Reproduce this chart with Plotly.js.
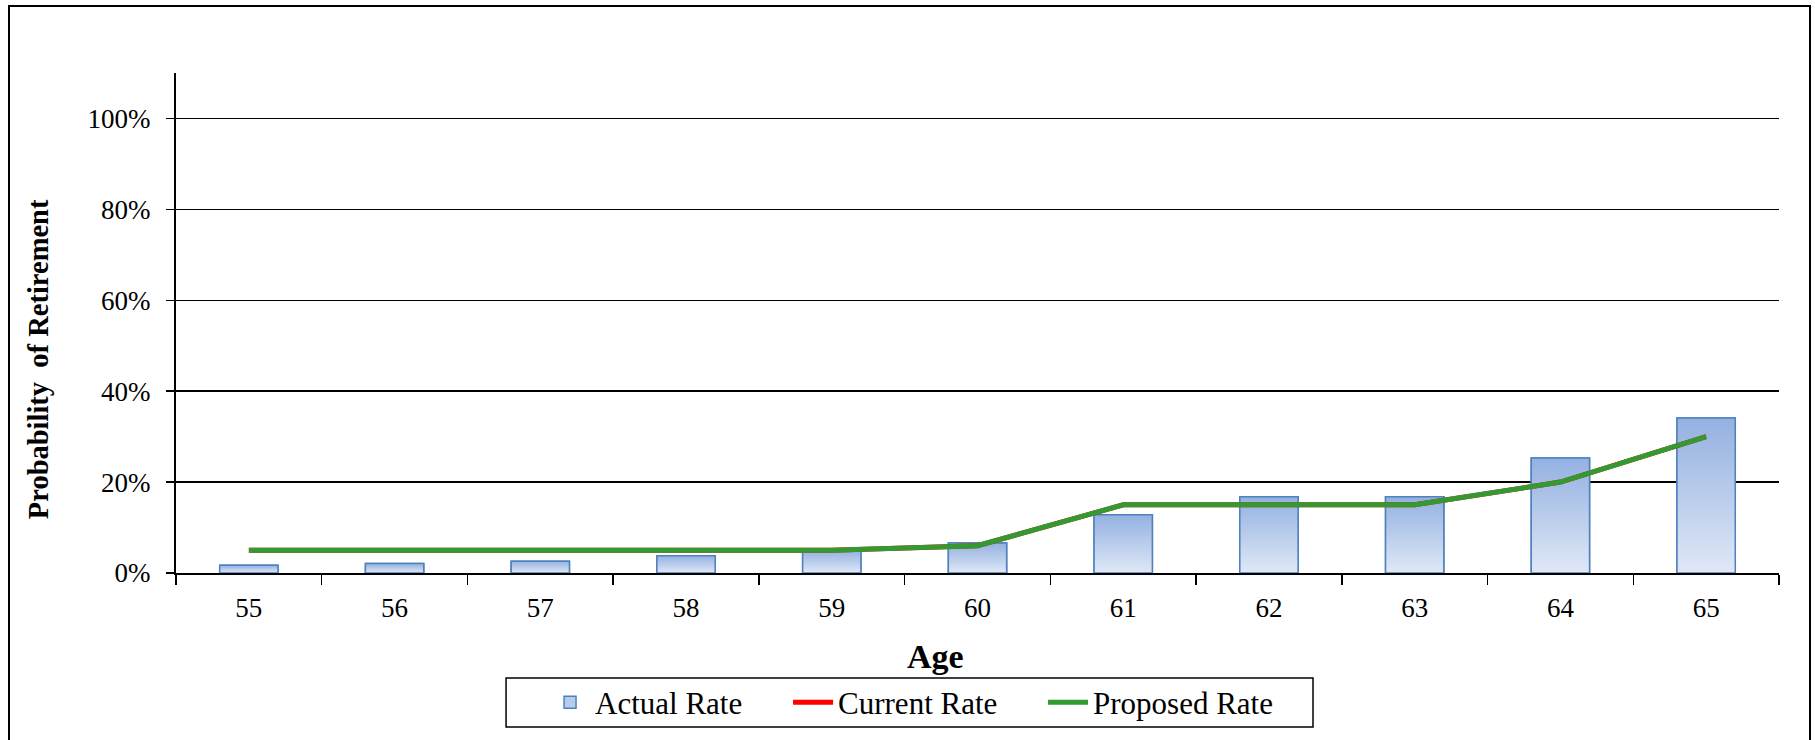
<!DOCTYPE html>
<html>
<head>
<meta charset="utf-8">
<script src="https://cdn.plot.ly/plotly-3.0.1.min.js"></script>
<style>
html,body{margin:0;padding:0;overflow:hidden;background:#fff;}
#wrap{position:relative;width:1815px;height:740px;}
#chart{position:absolute;left:0;top:0;width:1815px;height:740px;}
#frame{position:absolute;left:8px;top:5px;width:1799px;height:745px;border:2px solid #000;pointer-events:none;}
</style>
</head>
<body>
<div id="wrap"><div id="chart"></div><div id="frame"></div></div>
<script>
const ages = ['55','56','57','58','59','60','61','62','63','64','65'];
const actualRate = [0.017, 0.021, 0.026, 0.038, 0.050, 0.066, 0.128, 0.168, 0.168, 0.253, 0.341];
const currentRate = [0.05, 0.05, 0.05, 0.05, 0.05, 0.06, 0.15, 0.15, 0.15, 0.20, 0.30];
const proposedRate = [0.05, 0.05, 0.05, 0.05, 0.05, 0.06, 0.15, 0.15, 0.15, 0.20, 0.30];
const yTickVals = [0, 0.2, 0.4, 0.6, 0.8, 1.0];
const yTickText = ['0%', '20%', '40%', '60%', '80%', '100%'];

const serif = 'Liberation Serif, Times New Roman, serif';
const BAR_W = 0.4;
const idx = ages.map((a, i) => i);
const bounds = [-0.5].concat(idx.map(i => i + 0.5));

const traces = [
  {
    type: 'bar', name: 'Actual Rate', x: idx, y: actualRate, width: BAR_W,
    marker: {color: '#b7cbeb', line: {color: '#4f81bd', width: 1.5}},
    hoverinfo: 'skip', legendwidth: 188
  }
];
// gradient overlay for each bar (same geometry as the bar, derived from data)
actualRate.forEach((v, i) => {
  traces.push({
    type: 'scatter', mode: 'lines', showlegend: false, hoverinfo: 'skip',
    x: [i - BAR_W / 2, i + BAR_W / 2, i + BAR_W / 2, i - BAR_W / 2, i - BAR_W / 2],
    y: [0, 0, v, v, 0],
    fill: 'toself',
    fillgradient: {type: 'vertical', start: 0, stop: v,
      colorscale: [[0, '#e0e8f6'], [1, '#93b1e1']]},
    line: {color: '#4f81bd', width: 1.5}
  });
});
traces.push(
  {
    type: 'scatter', mode: 'lines', name: 'Current Rate', x: idx, y: currentRate,
    line: {color: '#ff0000', width: 5}, legendwidth: 200
  },
  {
    type: 'scatter', mode: 'lines', name: 'Proposed Rate', x: idx, y: proposedRate,
    line: {color: '#339933', width: 5}
  }
);

const layout = {
  width: 1815, height: 740,
  margin: {l: 176, r: 36, t: 73, b: 167, autoexpand: false},
  paper_bgcolor: '#fff', plot_bgcolor: '#fff',
  font: {family: serif, size: 27, color: '#000'},
  showlegend: true,
  legend: {
    orientation: 'h', xref: 'container', yref: 'container',
    x: 0.3003, xanchor: 'left', y: 0.0507, yanchor: 'middle',
    borderwidth: 0, bgcolor: 'rgba(0,0,0,0)',
    font: {family: serif, size: 31, color: '#000'},
    traceorder: 'normal', itemwidth: 40
  },
  xaxis: {
    range: [-0.5, 10.5], tickmode: 'array', tickvals: idx, ticktext: ages,
    ticks: '', showgrid: false, showline: true,
    linecolor: '#000', linewidth: 2, zeroline: false, ticklabelstandoff: 10,
    tickfont: {family: serif, size: 27, color: '#000'},
    minor: {tickmode: 'array', tickvals: bounds, ticks: 'outside', ticklen: 10,
      tickwidth: 1.5, tickcolor: '#000', showgrid: false}
  },
  yaxis: {
    range: [0, 1.1], tickvals: yTickVals, ticktext: yTickText,
    ticks: 'outside', ticklen: 8, tickwidth: 1.5, tickcolor: '#000',
    showgrid: true, gridcolor: '#000', gridwidth: 1.5,
    showline: true, linecolor: '#000', linewidth: 2, zeroline: false,
    tickfont: {family: serif, size: 27, color: '#000'}, ticklabelstandoff: 10
  },
  shapes: [
    {
      type: 'rect', xref: 'paper', yref: 'paper',
      x0: 0.2059, x1: 0.7093, y0: -0.308, y1: -0.21,
      line: {color: '#000', width: 1.5}, fillcolor: 'rgba(0,0,0,0)', layer: 'above'
    }
  ],
  annotations: [
    {
      text: '<b>Age</b>', xref: 'paper', yref: 'paper', x: 0.4735, y: -0.166,
      xanchor: 'center', yanchor: 'middle', showarrow: false,
      font: {family: serif, size: 34, color: '#000'}
    },
    {
      text: '<b>Probability\u00a0 of Retirement</b>', xref: 'paper', yref: 'paper',
      x: -0.086, y: 0.428, xanchor: 'center', yanchor: 'middle', textangle: -90,
      showarrow: false, font: {family: serif, size: 28.5, color: '#000'}
    }
  ]
};

Plotly.newPlot('chart', traces, layout, {displayModeBar: false, staticPlot: true});
</script>
</body>
</html>
